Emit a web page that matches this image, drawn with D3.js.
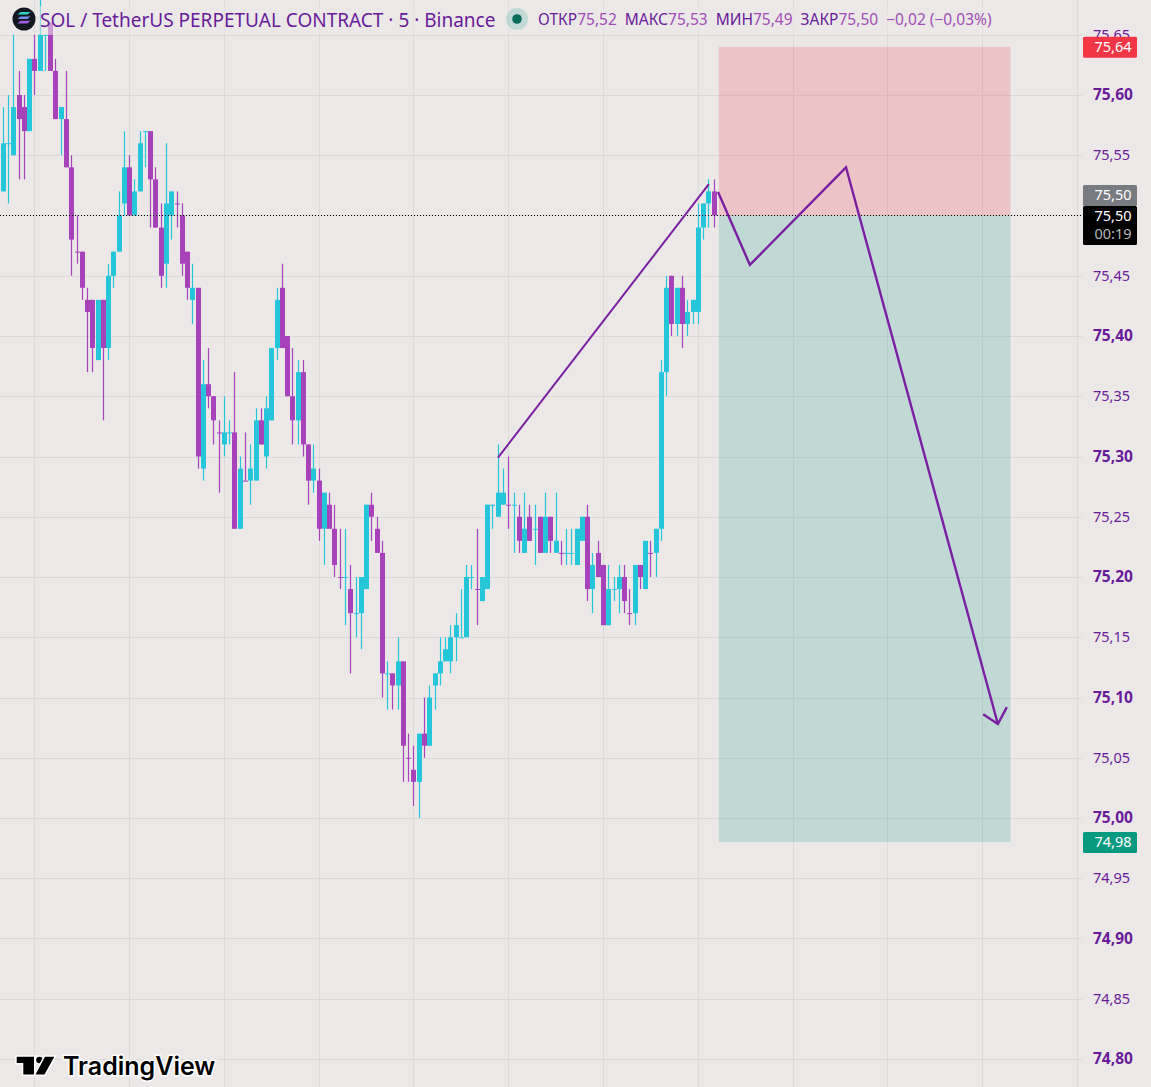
<!DOCTYPE html>
<html>
<head>
<meta charset="utf-8">
<title>SOL / TetherUS 5m</title>
<script src="https://cdnjs.cloudflare.com/ajax/libs/d3/7.8.5/d3.min.js"></script>
<style>
  html, body { margin: 0; padding: 0; background: #ece8e8; overflow: hidden; }
  svg { display: block; }
</style>
</head>
<body>
<script>

const width = 1151,
    height = 1087;

// candles, one 5 minute bar per entry
const opens = [
    75.52,75.56,75.55,75.60,75.59,75.57,75.63,75.62,75.65,75.66,75.62,75.58,75.58,75.54,75.47,75.47,75.43,75.43,75.38,75.43,
    75.39,75.45,75.47,75.51,75.54,75.50,75.52,75.57,75.57,75.53,75.49,75.46,75.50,75.51,75.50,75.47,75.43,75.44,75.29,75.36,
    75.35,75.32,75.31,75.32,75.32,75.24,75.28,75.28,75.28,75.33,75.30,75.33,75.39,75.44,75.40,75.35,75.33,75.37,75.31,75.28,
    75.28,75.24,75.26,75.24,75.20,75.20,75.19,75.17,75.17,75.19,75.26,75.24,75.22,75.12,75.12,75.11,75.13,75.05,75.04,75.03,
    75.07,75.06,75.11,75.12,75.13,75.13,75.15,75.15,75.15,75.20,75.19,75.18,75.19,75.26,75.25,75.26,75.26,75.26,75.25,75.22,
    75.25,75.24,75.25,75.22,75.25,75.22,75.22,75.22,75.22,75.21,75.23,75.25,75.19,75.22,75.21,75.16,75.19,75.19,75.20,75.17,
    75.17,75.21,75.19,75.22,75.22,75.24,75.37,75.45,75.41,75.44,75.41,75.42,75.42,75.49,75.51,75.52
];
const highs = [
    75.59,75.60,75.65,75.62,75.60,75.63,75.65,75.68,75.65,75.66,75.63,75.59,75.62,75.55,75.50,75.47,75.44,75.43,75.43,75.43,
    75.46,75.47,75.52,75.57,75.55,75.53,75.57,75.57,75.57,75.54,75.51,75.56,75.52,75.52,75.51,75.47,75.46,75.44,75.38,75.39,
    75.35,75.33,75.35,75.33,75.37,75.30,75.32,75.31,75.34,75.34,75.35,75.39,75.44,75.46,75.40,75.39,75.38,75.38,75.31,75.31,
    75.29,75.27,75.27,75.26,75.24,75.24,75.21,75.20,75.20,75.26,75.27,75.25,75.23,75.13,75.12,75.15,75.13,75.07,75.06,75.07,
    75.10,75.11,75.12,75.15,75.15,75.16,75.17,75.19,75.21,75.21,75.24,75.20,75.26,75.26,75.31,75.29,75.30,75.27,75.26,75.27,
    75.26,75.26,75.25,75.27,75.25,75.27,75.23,75.24,75.24,75.24,75.25,75.26,75.22,75.23,75.21,75.21,75.20,75.21,75.21,75.19,
    75.21,75.21,75.23,75.23,75.24,75.38,75.45,75.45,75.44,75.45,75.43,75.43,75.51,75.51,75.53,75.53
];
const lows = [
    75.52,75.51,75.55,75.53,75.53,75.57,75.60,75.62,75.62,75.62,75.58,75.55,75.54,75.45,75.46,75.43,75.37,75.37,75.38,75.33,
    75.38,75.44,75.47,75.50,75.50,75.50,75.52,75.54,75.49,75.49,75.44,75.44,75.48,75.49,75.45,75.43,75.41,75.29,75.28,75.34,
    75.31,75.27,75.30,75.31,75.24,75.24,75.28,75.26,75.28,75.31,75.29,75.33,75.38,75.39,75.35,75.31,75.31,75.30,75.26,75.27,
    75.23,75.21,75.24,75.20,75.19,75.16,75.12,75.15,75.14,75.19,75.23,75.22,75.10,75.09,75.09,75.09,75.03,75.03,75.01,75.00,
    75.05,75.06,75.09,75.11,75.13,75.12,75.13,75.15,75.15,75.19,75.16,75.18,75.19,75.24,75.25,75.26,75.24,75.22,75.22,75.22,
    75.23,75.21,75.22,75.22,75.22,75.22,75.21,75.21,75.21,75.21,75.23,75.18,75.17,75.20,75.16,75.16,75.18,75.17,75.17,75.16,
    75.16,75.19,75.19,75.20,75.20,75.23,75.35,75.40,75.40,75.39,75.40,75.41,75.41,75.48,75.49,75.49
];
const closes = [
    75.56,75.56,75.59,75.58,75.57,75.63,75.62,75.65,75.65,75.62,75.58,75.59,75.54,75.48,75.47,75.44,75.42,75.39,75.43,75.39,
    75.45,75.47,75.50,75.54,75.50,75.52,75.56,75.57,75.53,75.49,75.45,75.51,75.52,75.51,75.46,75.44,75.44,75.30,75.36,75.35,
    75.33,75.32,75.32,75.32,75.24,75.29,75.28,75.29,75.33,75.31,75.34,75.39,75.43,75.39,75.35,75.33,75.37,75.31,75.28,75.29,
    75.24,75.27,75.24,75.21,75.20,75.20,75.17,75.17,75.20,75.26,75.25,75.22,75.12,75.12,75.11,75.13,75.06,75.05,75.03,75.07,
    75.06,75.10,75.12,75.13,75.14,75.15,75.16,75.15,75.20,75.20,75.19,75.20,75.26,75.26,75.27,75.27,75.26,75.26,75.23,75.24,
    75.23,75.24,75.22,75.25,75.23,75.23,75.22,75.22,75.22,75.24,75.25,75.19,75.21,75.20,75.16,75.19,75.19,75.20,75.18,75.17,
    75.21,75.20,75.23,75.22,75.24,75.37,75.44,75.41,75.44,75.41,75.42,75.43,75.49,75.51,75.52,75.50
];
// bars with open == close that are painted in the falling colour
const dojiDown = [14, 33, 41, 46, 64, 77, 90, 96, 106, 119, 123];

// price axis
const priceTicks = [74.80,74.85,74.90,74.95,75.00,75.05,75.10,75.15,75.20,75.25,75.30,75.35,75.40,75.45,75.50,75.55,75.60,75.65];
const boldTicks = [74.80,74.90,75.00,75.10,75.20,75.30,75.40,75.60];
// bar numbers of the vertical grid lines
const timeTicks = [6, 24, 42, 60, 78, 96, 114, 132, 150, 168, 186];

// short position tool
const stopPrice = 75.64,
    entryPrice = 75.50,
    targetPrice = 74.98,
    positionStart = 136,
    positionEnd = 191.4;

// drawn lines, [bar, price]
const rallyLine = [[94.05, 75.299], [134.1, 75.526]];
const pathLine = [[135.85, 75.5195], [141.9, 75.459], [160.15, 75.54], [189.0, 75.078]];
const arrowHead = [[186.2, 75.086], [189.0, 75.078], [190.7, 75.092]];

// legend
const titleText = "SOL / TetherUS PERPETUAL CONTRACT · 5 · Binance";
const ohlcLabels = ["ОТКР", "МАКС", "МИН", "ЗАКР"];
const ohlcValues = ["75,52", "75,53", "75,49", "75,50"];
const changeText = "−0,02 (−0,03%)";

const upColour = "#26c6da",
    downColour = "#a742bb",
    bgColour = "#ece8e8",
    gridColour = "#dcd9d9",
    lineColour = "#7b1fa2",
    textColour = "#6a1b9a";
const font = "'Noto Sans', sans-serif";

const x = d3.scaleLinear().domain([0, 18]).range([2.8, 97.57]);
const y = d3.scaleLinear().domain([75, 75.6]).range([818, 95]);
const fmt = d3.formatLocale({decimal: ",", thousands: ".", grouping: [3], currency: ["", ""]}).format(".2f");

const svg = d3.select("body")
    .append("svg")
    .attr("width", width)
    .attr("height", height)
    .style("background", bgColour);

// Grid lines
svg.append("g")
    .selectAll("line")
    .data(timeTicks)
    .join("line")
    .attr("x1", d => Math.round(x(d)) + 0.5)
    .attr("x2", d => Math.round(x(d)) + 0.5)
    .attr("y1", 0)
    .attr("y2", height)
    .attr("stroke", gridColour);

svg.append("g")
    .selectAll("line")
    .data(priceTicks)
    .join("line")
    .attr("x1", 0)
    .attr("x2", 1082)
    .attr("y1", d => Math.round(y(d)) + 0.5)
    .attr("y2", d => Math.round(y(d)) + 0.5)
    .attr("stroke", gridColour);

svg.append("line")
    .attr("x1", 1077.5)
    .attr("x2", 1077.5)
    .attr("y1", 0)
    .attr("y2", height)
    .attr("stroke", gridColour);

// Position boxes
svg.append("rect")
    .attr("x", x(positionStart))
    .attr("width", x(positionEnd) - x(positionStart))
    .attr("y", y(stopPrice))
    .attr("height", y(entryPrice) - y(stopPrice))
    .attr("fill", "#f23645")
    .attr("fill-opacity", 0.2);
svg.append("rect")
    .attr("x", x(positionStart))
    .attr("width", x(positionEnd) - x(positionStart))
    .attr("y", y(entryPrice))
    .attr("height", y(targetPrice) - y(entryPrice))
    .attr("fill", "#089981")
    .attr("fill-opacity", 0.19);

// Candles
const bars = opens.map((o, i) => ({
    i: i,
    open: o,
    high: highs[i],
    low: lows[i],
    close: closes[i],
    up: closes[i] > o || (closes[i] === o && !dojiDown.includes(i))
}));

svg.append("g")
    .selectAll("line")
    .data(bars)
    .join("line")
    .attr("x1", d => Math.round(x(d.i)) + 0.5)
    .attr("x2", d => Math.round(x(d.i)) + 0.5)
    .attr("y1", d => y(d.high))
    .attr("y2", d => y(d.low))
    .attr("stroke", d => d.up ? upColour : downColour)
    .attr("stroke-width", 1.2);

svg.append("g")
    .selectAll("rect")
    .data(bars)
    .join("rect")
    .attr("x", d => Math.round(x(d.i)) - 2)
    .attr("width", 5)
    .attr("y", d => Math.min(y(d.open), y(d.close)))
    .attr("height", d => Math.max(1, Math.abs(y(d.open) - y(d.close))))
    .attr("fill", d => d.up ? upColour : downColour);

// Current price line
svg.append("line")
    .attr("x1", 0)
    .attr("x2", 1083)
    .attr("y1", Math.round(y(entryPrice)) + 0.5)
    .attr("y2", Math.round(y(entryPrice)) + 0.5)
    .attr("stroke", "#000")
    .attr("stroke-dasharray", "1 2");

// Drawings
const line = d3.line().x(d => x(d[0])).y(d => y(d[1]));
[rallyLine, pathLine, arrowHead].forEach(pts => {
    svg.append("path")
        .attr("d", line(pts))
        .attr("fill", "none")
        .attr("stroke", lineColour)
        .attr("stroke-width", pts === rallyLine ? 2 : 2.4);
});

// The legend sits on a translucent strip over the candles
svg.append("rect")
    .attr("x", 40)
    .attr("y", 6)
    .attr("width", 960)
    .attr("height", 29)
    .attr("fill", bgColour)
    .attr("fill-opacity", 0.55);

// Symbol icon
svg.append("circle").attr("cx", 24).attr("cy", 19).attr("r", 11.5).attr("fill", "#131722");
[["#2fd3c8", 13.6], ["#7a8be8", 18], ["#a45ce0", 22.4]].forEach(s => {
    svg.append("path")
        .attr("d", `M18,${s[1] + 1}l3,-2.6h10l-3,2.6z`)
        .attr("transform", "translate(-0.5,0)")
        .attr("fill", s[0]);
});

svg.append("text")
    .attr("x", 40)
    .attr("y", 27)
    .attr("font-family", font)
    .attr("font-size", 19)
    .attr("fill", textColour)
    .text(titleText);

svg.append("circle").attr("cx", 517).attr("cy", 19).attr("r", 11).attr("fill", "#089981").attr("fill-opacity", 0.18);
svg.append("circle").attr("cx", 517).attr("cy", 19).attr("r", 4.8).attr("fill", "#0b6b5b");

const ohlc = svg.append("text")
    .attr("x", 538)
    .attr("y", 25)
    .attr("font-family", font)
    .attr("font-size", 15.5);
ohlcLabels.forEach((label, i) => {
    ohlc.append("tspan").attr("fill", textColour).attr("dx", i ? 8 : 0).text(label);
    ohlc.append("tspan").attr("fill", "#a24cb8").text(ohlcValues[i]);
});
ohlc.append("tspan").attr("fill", "#a24cb8").attr("dx", 8).text(changeText);

// Price axis
const axis = svg.append("g")
    .attr("transform", "translate(1093,0)")
    .call(d3.axisRight(y).tickValues(priceTicks).tickFormat(fmt).tickSize(0).tickPadding(0));
axis.select(".domain").remove();
axis.selectAll("text")
    .attr("font-family", font)
    .attr("font-size", d => boldTicks.includes(d) ? 15.5 : 14.5)
    .attr("font-weight", d => boldTicks.includes(d) ? "bold" : "normal")
    .attr("fill", textColour);

// Price badges
function badge(top, bottom, colour) {
    svg.append("rect")
        .attr("x", 1083)
        .attr("y", top)
        .attr("width", 54)
        .attr("height", bottom - top)
        .attr("rx", 1.5)
        .attr("fill", colour);
}
function badgeText(yPos, text, colour) {
    svg.append("text")
        .attr("x", 1113)
        .attr("y", yPos)
        .attr("text-anchor", "middle")
        .attr("font-family", font)
        .attr("font-size", 14.5)
        .attr("fill", colour)
        .text(text);
}
badge(y(stopPrice) - 10, y(stopPrice) + 11, "#f23645");
badgeText(y(stopPrice) + 5, fmt(stopPrice), "#fff");
badge(185, 206, "#787b7f");
badgeText(200, fmt(closes[closes.length - 1]), "#fff");
badge(206, 245, "#000");
badgeText(221, fmt(closes[closes.length - 1]), "#fff");
badgeText(239, "00:19", "#b8b8b8");
badge(y(targetPrice) - 10, y(targetPrice) + 11, "#089981");
badgeText(y(targetPrice) + 5, fmt(targetPrice), "#fff");

// TradingView mark
const logo = svg.append("g")
    .attr("stroke", "#fff")
    .attr("stroke-width", 3)
    .attr("paint-order", "stroke")
    .attr("fill", "#000");
logo.append("path").attr("d", "M16.7,1056.7H34V1074.5H23.3V1063H16.7Z");
logo.append("circle").attr("cx", 39.5).attr("cy", 1060).attr("r", 3.3);
logo.append("path").attr("d", "M45,1056.7H54.3L44.5,1074.5H35.5Z");
logo.append("text")
    .attr("x", 63)
    .attr("y", 1075)
    .attr("font-family", "Inter, sans-serif")
    .attr("font-weight", 600)
    .attr("font-size", 25)
    .text("TradingView");

</script>
</body>
</html>
